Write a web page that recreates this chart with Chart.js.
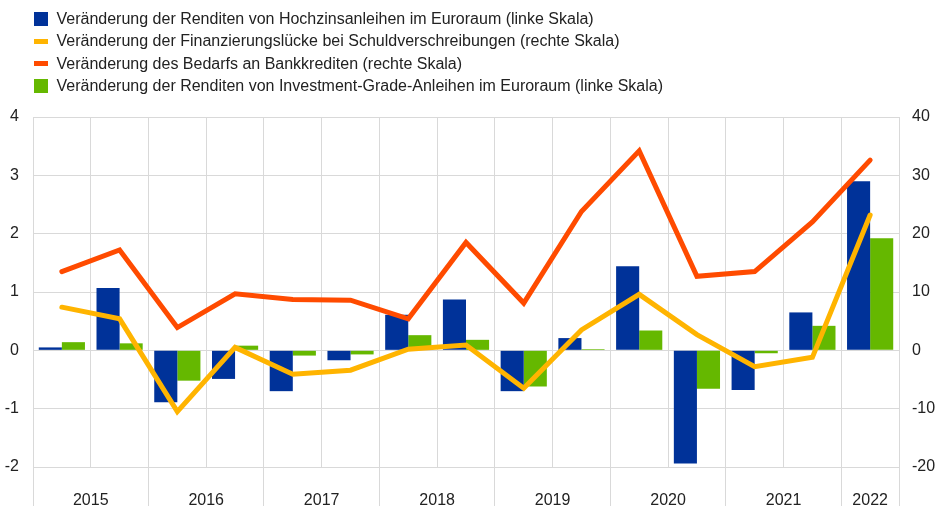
<!DOCTYPE html>
<html lang="de">
<head>
    <meta charset="UTF-8">
    <title>Renditen, Finanzierungslücke und Bedarf an Bankkrediten</title>
    <script src="https://cdn.jsdelivr.net/npm/chart.js"></script>
    <style>
        body {
            margin: 0;
            background: #ffffff;
            font-family: "Liberation Sans", Arial, sans-serif;
        }
        .wrap {
            position: relative;
            width: 938px;
            height: 506px;
        }
        #chart {
            position: absolute;
            left: 0;
            top: 0;
        }
        .legend {
            position: absolute;
            left: 34px;
            top: 7.5px;
            font-size: 16px;
            color: #222;
        }
        .legend div {
            height: 22.5px;
            line-height: 22.5px;
            white-space: nowrap;
            display: flex;
            align-items: center;
        }
        .legend span.mark {
            display: inline-block;
            width: 13.5px;
            margin-right: 9px;
        }
    </style>
</head>
<body>
<div class="wrap">
    <canvas id="chart" width="938" height="506"></canvas>
    <div class="legend" id="legend"></div>
</div>

<script>
    // Halbjahre 2015 H1 bis 2022 H1
    const periods = ['2015 H1', '2015 H2', '2016 H1', '2016 H2', '2017 H1', '2017 H2', '2018 H1', '2018 H2',
                     '2019 H1', '2019 H2', '2020 H1', '2020 H2', '2021 H1', '2021 H2', '2022 H1'];
    const years = ['2015', '2016', '2017', '2018', '2019', '2020', '2021', '2022'];

    // linke Skala (Prozentpunkte)
    const hyYields = [0.05, 1.07, -0.89, -0.49, -0.70, -0.17, 0.61, 0.87, -0.70, 0.21, 1.44, -1.94, -0.68, 0.65, 2.90];
    const igYields = [0.14, 0.12, -0.52, 0.08, -0.09, -0.07, 0.26, 0.18, -0.62, 0.02, 0.34, -0.66, -0.05, 0.42, 1.92];
    // rechte Skala (Saldo in %)
    const financingGap = [7.4, 5.4, -10.5, 0.5, -4.1, -3.4, 0.2, 0.9, -6.5, 3.5, 9.6, 2.7, -2.8, -1.2, 23.2];
    const loanDemand = [13.5, 17.2, 3.9, 9.7, 8.7, 8.6, 5.4, 18.5, 8.1, 23.8, 34.2, 12.7, 13.5, 22.0, 32.6];

    const blue = '#003299';
    const yellow = '#ffb400';
    const orange = '#ff4b00';
    const green = '#65b800';
    const gridColor = '#d9d9d9';
    const textColor = '#222222';
    const fontFamily = '"Liberation Sans", Arial, sans-serif';

    const datasets = [
        { type: 'bar', label: 'Veränderung der Renditen von Hochzinsanleihen im Euroraum (linke Skala)',
          data: hyYields, backgroundColor: blue, yAxisID: 'y', order: 2 },
        { type: 'line', label: 'Veränderung der Finanzierungslücke bei Schuldverschreibungen (rechte Skala)',
          data: financingGap, borderColor: yellow, yAxisID: 'y2', order: 0 },
        { type: 'line', label: 'Veränderung des Bedarfs an Bankkrediten (rechte Skala)',
          data: loanDemand, borderColor: orange, yAxisID: 'y2', order: 1 },
        { type: 'bar', label: 'Veränderung der Renditen von Investment-Grade-Anleihen im Euroraum (linke Skala)',
          data: igYields, backgroundColor: green, yAxisID: 'y', order: 2 }
    ];

    datasets.forEach(ds => {
        if (ds.type === 'line') {
            Object.assign(ds, { borderWidth: 5, pointRadius: 0, tension: 0, fill: false,
                                borderCapStyle: 'round', borderJoinStyle: 'miter' });
        } else {
            Object.assign(ds, { borderWidth: 0, categoryPercentage: 0.8, barPercentage: 1.0 });
        }
    });

    // Legende als HTML
    const legend = document.getElementById('legend');
    datasets.forEach(ds => {
        const row = document.createElement('div');
        const mark = document.createElement('span');
        mark.className = 'mark';
        mark.style.height = ds.type === 'bar' ? '14px' : '5px';
        mark.style.background = ds.type === 'bar' ? ds.backgroundColor : ds.borderColor;
        row.appendChild(mark);
        row.appendChild(document.createTextNode(ds.label));
        legend.appendChild(row);
    });

    // Jahresbeschriftung mittig unter den zugehörigen Halbjahren
    const yearLabels = {
        id: 'yearLabels',
        afterDraw(chart) {
            const x = chart.scales.x;
            const ctx = chart.ctx;
            ctx.save();
            ctx.font = '16px ' + fontFamily;
            ctx.fillStyle = textColor;
            ctx.textAlign = 'center';
            ctx.textBaseline = 'alphabetic';
            years.forEach(year => {
                const idx = periods.map((p, i) => p.startsWith(year) ? i : -1).filter(i => i >= 0);
                const px = idx.reduce((s, i) => s + x.getPixelForValue(i), 0) / idx.length;
                ctx.fillText(year, px, 505);
            });
            ctx.restore();
        }
    };

    new Chart(document.getElementById('chart'), {
        type: 'bar',
        data: { labels: periods, datasets: datasets },
        options: {
            responsive: false,
            animation: false,
            layout: { padding: { top: 117, left: 0, right: 0, bottom: 0 } },
            plugins: {
                legend: { display: false },
                tooltip: { enabled: false }
            },
            scales: {
                x: {
                    offset: true,
                    grid: {
                        offset: true,
                        color: gridColor,
                        lineWidth: 1,
                        drawTicks: true,
                        tickLength: 39,
                        // nur Jahresgrenzen reichen in den Beschriftungsbereich
                        tickColor: ctx => (ctx.index === undefined || ctx.index % 2 === 0) ? gridColor : 'rgba(0,0,0,0)'
                    },
                    border: { display: false },
                    ticks: { display: false },
                    afterFit: scale => { scale.height = 39; }
                },
                y: {
                    position: 'left',
                    min: -2,
                    max: 4,
                    ticks: { stepSize: 1, padding: 14, color: textColor, font: { size: 16, family: fontFamily } },
                    grid: { color: gridColor, drawTicks: false },
                    border: { display: false },
                    afterFit: scale => { scale.width = 33; }
                },
                y2: {
                    position: 'right',
                    min: -20,
                    max: 40,
                    ticks: { stepSize: 10, padding: 13, color: textColor, font: { size: 16, family: fontFamily } },
                    grid: { display: false, drawTicks: false },
                    border: { display: false },
                    afterFit: scale => { scale.width = 39; }
                }
            }
        },
        plugins: [yearLabels]
    });
</script>
</body>
</html>
